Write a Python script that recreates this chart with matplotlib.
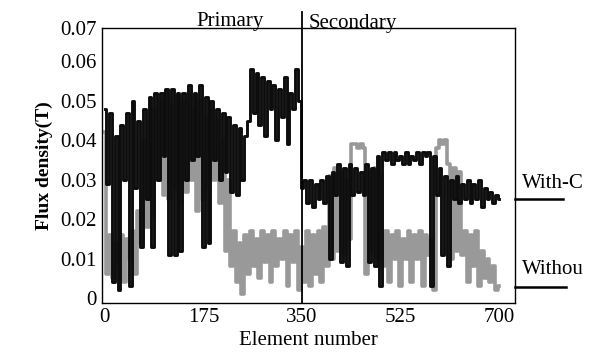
import matplotlib.pyplot as plt

# Номера элементов (шаг 5)
elements = list(range(0, 705, 5))

# Индукция, вариант With-C (чёрная линия)
with_c = [
    0.048, 0.029, 0.047, 0.004, 0.041, 0.002, 0.044, 0.030, 0.047, 0.003,
    0.050, 0.028, 0.045, 0.013, 0.048, 0.025, 0.051, 0.013, 0.052, 0.030,
    0.052, 0.036, 0.053, 0.011, 0.053, 0.011, 0.052, 0.012, 0.052, 0.030,
    0.054, 0.035, 0.052, 0.036, 0.054, 0.013, 0.051, 0.014, 0.050, 0.035,
    0.048, 0.030, 0.047, 0.032, 0.046, 0.027, 0.044, 0.026, 0.043, 0.030,
    0.041, 0.045, 0.058, 0.047, 0.057, 0.044, 0.056, 0.041, 0.055, 0.048,
    0.054, 0.040, 0.053, 0.046, 0.056, 0.039, 0.052, 0.048, 0.058, 0.050,
    0.028, 0.030, 0.024, 0.030, 0.023, 0.029, 0.025, 0.030, 0.024, 0.031,
    0.010, 0.032, 0.026, 0.034, 0.009, 0.033, 0.008, 0.034, 0.026, 0.033,
    0.027, 0.032, 0.026, 0.034, 0.009, 0.033, 0.008, 0.036, 0.003, 0.037,
    0.035, 0.037, 0.034, 0.037, 0.035, 0.036, 0.034, 0.037, 0.034, 0.036,
    0.035, 0.037, 0.034, 0.037, 0.036, 0.037, 0.003, 0.036, 0.026, 0.033,
    0.011, 0.031, 0.008, 0.030, 0.025, 0.031, 0.024, 0.029, 0.025, 0.030,
    0.024, 0.029, 0.025, 0.030, 0.023, 0.028, 0.025, 0.027, 0.024, 0.026,
    0.025,
]

# Индукция, вариант Without (серая линия)
without = [
    0.042, 0.006, 0.016, 0.005, 0.014, 0.009, 0.016, 0.004, 0.015, 0.010,
    0.017, 0.006, 0.022, 0.014, 0.040, 0.018, 0.045, 0.020, 0.048, 0.030,
    0.050, 0.026, 0.052, 0.025, 0.049, 0.028, 0.051, 0.024, 0.050, 0.027,
    0.052, 0.030, 0.048, 0.022, 0.050, 0.025, 0.046, 0.028, 0.048, 0.030,
    0.045, 0.024, 0.040, 0.012, 0.030, 0.008, 0.017, 0.004, 0.014, 0.001,
    0.016, 0.006, 0.017, 0.008, 0.015, 0.005, 0.017, 0.009, 0.016, 0.004,
    0.017, 0.008, 0.015, 0.010, 0.017, 0.003, 0.016, 0.009, 0.017, 0.002,
    0.013, 0.004, 0.017, 0.003, 0.016, 0.006, 0.017, 0.004, 0.018, 0.008,
    0.031, 0.010, 0.033, 0.012, 0.032, 0.011, 0.030, 0.015, 0.039, 0.039,
    0.038, 0.039, 0.038, 0.006, 0.032, 0.012, 0.033, 0.010, 0.031, 0.008,
    0.017, 0.004, 0.016, 0.010, 0.017, 0.003, 0.015, 0.010, 0.017, 0.004,
    0.016, 0.010, 0.017, 0.003, 0.016, 0.011, 0.015, 0.002, 0.038, 0.040,
    0.039, 0.040, 0.034, 0.010, 0.033, 0.012, 0.032, 0.011, 0.017, 0.004,
    0.016, 0.008, 0.017, 0.003, 0.012, 0.005, 0.010, 0.004, 0.008, 0.002,
    0.003,
]

x_ticks = [0, 175, 350, 525, 700]
y_ticks = [0, 0.01, 0.02, 0.03, 0.04, 0.05, 0.06, 0.0685]
y_tick_labels = ['0', '0.01', '0.02', '0.03', '0.04', '0.05', '0.06', '0.07']


def main():
    plt.rcParams['font.family'] = ['Liberation Serif', 'DejaVu Serif']
    fig = plt.figure(figsize=(5.98, 3.53), dpi=100)
    ax = fig.add_axes([0.1706, 0.1425, 0.6906, 0.7782])

    # серая кривая
    ax.plot(elements, without, color='#999999', lw=2.6, drawstyle='steps-mid')
    # чёрная кривая
    ax.plot(elements, with_c, color='#0d0d0d', lw=2.1, drawstyle='steps-mid')

    # граница первичной / вторичной части
    ax.plot([350, 350], [-0.0012, 0.0725], color='black', lw=1.3, clip_on=False)

    ax.set_xlim(-5, 728)
    ax.set_ylim(-0.0012, 0.0675)
    ax.set_xticks(x_ticks)
    ax.set_yticks(y_ticks)
    ax.set_yticklabels(y_tick_labels)
    ax.tick_params(length=0, labelsize=15, pad=4)
    for s in ax.spines.values():
        s.set_linewidth(1.0)

    ax.set_xlabel('Element number', fontsize=15, labelpad=3)
    ax.set_ylabel('Flux density(T)', fontsize=14, fontweight='bold', labelpad=5)

    ax.text(222, 0.0702, 'Primary', fontsize=15, ha='center', va='center')
    ax.text(362, 0.0696, 'Secondary', fontsize=15, ha='left', va='center')

    # подписи справа
    ax.plot([1.0, 1.116], [0.3775, 0.3775], color='black', lw=1.8,
            transform=ax.transAxes, clip_on=False)
    ax.plot([1.0, 1.123], [0.057, 0.057], color='black', lw=1.8,
            transform=ax.transAxes, clip_on=False)
    ax.text(1.017, 0.40, 'With-C', fontsize=15, transform=ax.transAxes,
            ha='left', va='bottom')
    ax.text(1.017, 0.085, 'Withou', fontsize=15, transform=ax.transAxes,
            ha='left', va='bottom')

    fig.savefig('out.png', dpi=100)


if __name__ == '__main__':
    main()
